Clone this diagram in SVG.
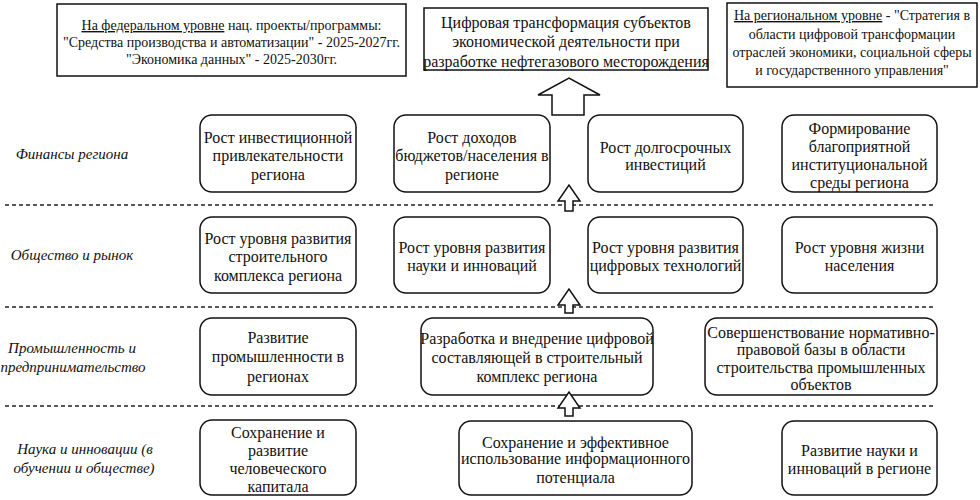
<svg xmlns="http://www.w3.org/2000/svg" width="980" height="500" viewBox="0 0 980 500">
<style>
  .box { fill: #fff; stroke: #111; stroke-width: 1.5; }
  .sep { stroke: #222; stroke-width: 1.3; stroke-dasharray: 4 3; fill: none; }
  .arr { fill: #fff; stroke: #111; stroke-width: 1.5; }
  .t { font-family: 'Liberation Serif', serif; fill: #111; text-anchor: middle; }
  .s16 { font-size: 16px; }
  .s14 { font-size: 14px; }
  .lbl { font-size: 15px; font-style: italic; }
  .u { text-decoration: underline; }
</style>
<rect width="980" height="500" fill="#fff"/>

<g id="separators">
  <line class="sep" x1="5" y1="205" x2="935" y2="205"/>
  <line class="sep" x1="5" y1="307" x2="935" y2="307"/>
  <line class="sep" x1="5" y1="406" x2="935" y2="406"/>
</g>

<g id="federal">
  <rect class="box" x="57" y="4" width="349" height="72"/>
  <text class="t s14" font-family="Liberation Serif" x="231.5" y="30"><tspan class="u">На федеральном уровне</tspan> нац. проекты/программы:</text>
  <text class="t s14" font-family="Liberation Serif" x="231.5" y="47">"Средства производства и автоматизации" - 2025-2027гг.</text>
  <text class="t s14" font-family="Liberation Serif" x="231.5" y="63.5">"Экономика данных" - 2025-2030гг.</text>
</g>

<g id="goal">
  <rect class="box" x="424" y="8" width="284" height="62"/>
  <text class="t s16" font-family="Liberation Serif" x="566" y="27.5">Цифровая трансформация субъектов</text>
  <text class="t s16" font-family="Liberation Serif" x="566" y="47">экономической деятельности при</text>
  <text class="t s16" font-family="Liberation Serif" x="566" y="66.5">разработке нефтегазового месторождения</text>
</g>

<g id="regional">
  <rect class="box" x="727" y="3" width="250" height="84"/>
  <text class="t s14" font-family="Liberation Serif" x="852" y="20"><tspan class="u">На региональном уровне</tspan> - "Стратегия в</text>
  <text class="t s14" font-family="Liberation Serif" x="852" y="38.5">области цифровой трансформации</text>
  <text class="t s14" font-family="Liberation Serif" x="852" y="57">отраслей экономики, социальной сферы</text>
  <text class="t s14" font-family="Liberation Serif" x="852" y="75">и государственного управления"</text>
</g>

<g id="row-labels">
  <text class="t lbl" font-family="Liberation Serif" x="72" y="159">Финансы региона</text>
  <text class="t lbl" font-family="Liberation Serif" x="72" y="260">Общество и рынок</text>
  <text class="t lbl" font-family="Liberation Serif" x="72" y="353">Промышленность и</text>
  <text class="t lbl" font-family="Liberation Serif" x="73" y="372">предпринимательство</text>
  <text class="t lbl" font-family="Liberation Serif" x="85" y="454">Наука и инновации (в</text>
  <text class="t lbl" font-family="Liberation Serif" x="84" y="473">обучении и обществе)</text>
</g>

<g id="r1a">
  <rect class="box" x="200" y="115" width="156" height="77" rx="12"/>
  <text class="t s16" font-family="Liberation Serif" x="278" y="142.5">Рост инвестиционной</text>
  <text class="t s16" font-family="Liberation Serif" x="278" y="161">привлекательности</text>
  <text class="t s16" font-family="Liberation Serif" x="278" y="179.5">региона</text>
</g>
<g id="r1b">
  <rect class="box" x="394" y="115" width="156" height="77" rx="12"/>
  <text class="t s16" font-family="Liberation Serif" x="472" y="142.5">Рост доходов</text>
  <text class="t s16" font-family="Liberation Serif" x="472" y="161">бюджетов/населения в</text>
  <text class="t s16" font-family="Liberation Serif" x="472" y="179.5">регионе</text>
</g>
<g id="r1c">
  <rect class="box" x="588" y="115" width="155" height="77" rx="12"/>
  <text class="t s16" font-family="Liberation Serif" x="665.5" y="152.5">Рост долгосрочных</text>
  <text class="t s16" font-family="Liberation Serif" x="665.5" y="170">инвестиций</text>
</g>
<g id="r1d">
  <rect class="box" x="782" y="115" width="155" height="77" rx="12"/>
  <text class="t s16" font-family="Liberation Serif" x="859.5" y="133.5">Формирование</text>
  <text class="t s16" font-family="Liberation Serif" x="859.5" y="152">благоприятной</text>
  <text class="t s16" font-family="Liberation Serif" x="859.5" y="170">институциональной</text>
  <text class="t s16" font-family="Liberation Serif" x="859.5" y="188">среды региона</text>
</g>

<g id="r2a">
  <rect class="box" x="200" y="217" width="156" height="76" rx="12"/>
  <text class="t s16" font-family="Liberation Serif" x="278" y="243.5">Рост уровня развития</text>
  <text class="t s16" font-family="Liberation Serif" x="278" y="262">строительного</text>
  <text class="t s16" font-family="Liberation Serif" x="278" y="280.5">комплекса региона</text>
</g>
<g id="r2b">
  <rect class="box" x="394" y="217" width="156" height="76" rx="12"/>
  <text class="t s16" font-family="Liberation Serif" x="472" y="252.5">Рост уровня развития</text>
  <text class="t s16" font-family="Liberation Serif" x="472" y="271">науки и инноваций</text>
</g>
<g id="r2c">
  <rect class="box" x="588" y="217" width="155" height="76" rx="12"/>
  <text class="t s16" font-family="Liberation Serif" x="665.5" y="252.5">Рост уровня развития</text>
  <text class="t s16" font-family="Liberation Serif" x="665.5" y="271">цифровых технологий</text>
</g>
<g id="r2d">
  <rect class="box" x="782" y="217" width="155" height="76" rx="12"/>
  <text class="t s16" font-family="Liberation Serif" x="859.5" y="252.5">Рост уровня жизни</text>
  <text class="t s16" font-family="Liberation Serif" x="859.5" y="271">населения</text>
</g>

<g id="r3a">
  <rect class="box" x="200" y="318" width="156" height="77" rx="12"/>
  <text class="t s16" font-family="Liberation Serif" x="278" y="342.5">Развитие</text>
  <text class="t s16" font-family="Liberation Serif" x="278" y="362">промышленности в</text>
  <text class="t s16" font-family="Liberation Serif" x="278" y="381.5">регионах</text>
</g>
<g id="r3b">
  <rect class="box" x="421" y="318" width="232" height="77" rx="12"/>
  <text class="t s16" font-family="Liberation Serif" x="537" y="344">Разработка и внедрение цифровой</text>
  <text class="t s16" font-family="Liberation Serif" x="537" y="362.5">составляющей в строительный</text>
  <text class="t s16" font-family="Liberation Serif" x="537" y="381.5">комплекс региона</text>
</g>
<g id="r3c">
  <rect class="box" x="705" y="318" width="232" height="77" rx="12"/>
  <text class="t s16" font-family="Liberation Serif" x="821" y="337.5">Совершенствование нормативно-</text>
  <text class="t s16" font-family="Liberation Serif" x="821" y="355">правовой базы в области</text>
  <text class="t s16" font-family="Liberation Serif" x="821" y="372.5">строительства промышленных</text>
  <text class="t s16" font-family="Liberation Serif" x="821" y="390">объектов</text>
</g>

<g id="r4a">
  <rect class="box" x="200" y="420" width="156" height="75" rx="12"/>
  <text class="t s16" font-family="Liberation Serif" x="278" y="437.5">Сохранение и</text>
  <text class="t s16" font-family="Liberation Serif" x="278" y="455.5">развитие</text>
  <text class="t s16" font-family="Liberation Serif" x="278" y="473.5">человеческого</text>
  <text class="t s16" font-family="Liberation Serif" x="278" y="492">капитала</text>
</g>
<g id="r4b">
  <rect class="box" x="459" y="421" width="233" height="74" rx="12"/>
  <text class="t s16" font-family="Liberation Serif" x="575.5" y="447.5">Сохранение и эффективное</text>
  <text class="t s16" font-family="Liberation Serif" x="575.5" y="464">использование информационного</text>
  <text class="t s16" font-family="Liberation Serif" x="575.5" y="482.5">потенциала</text>
</g>
<g id="r4c">
  <rect class="box" x="782" y="421" width="155" height="74" rx="12"/>
  <text class="t s16" font-family="Liberation Serif" x="859.5" y="455.5">Развитие науки и</text>
  <text class="t s16" font-family="Liberation Serif" x="859.5" y="473.5">инноваций в регионе</text>
</g>

<g id="connectors">
  <polygon class="arr" points="552,115 552,95 538,95 569,78 600,95 584,95 584,115"/>
  <polygon class="arr" points="565,211 565,201 558,201 569,185 580,201 573,201 573,211"/>
  <polygon class="arr" points="565,313 565,305 558,305 569,289 580,305 573,305 573,313"/>
  <polygon class="arr" points="565,416 565,408 558,408 569,392 580,408 573,408 573,416"/>
</g>
</svg>
